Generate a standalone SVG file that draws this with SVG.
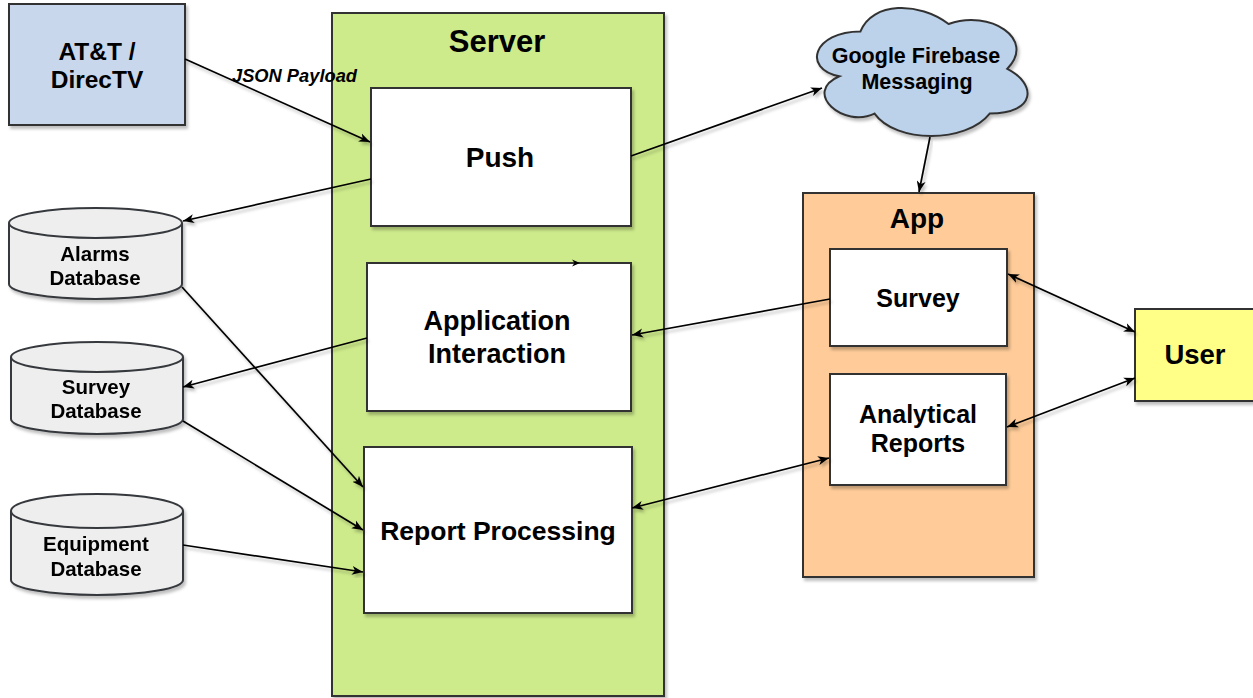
<svg xmlns="http://www.w3.org/2000/svg" width="1253" height="698" viewBox="0 0 1253 698">
<defs>
<filter id="sh" x="-10%" y="-10%" width="130%" height="130%">
<feDropShadow dx="2" dy="3" stdDeviation="1.4" flood-color="#000" flood-opacity="0.25"/>
</filter>
<marker id="arr" markerUnits="userSpaceOnUse" markerWidth="12" markerHeight="11" viewBox="0 0 12 11" refX="11" refY="5.5" orient="auto-start-reverse">
<path d="M0,1 L11,5.5 L0,10 L3,5.5 Z" fill="#000"/>
</marker>
<style>
.box{stroke:#333;stroke-width:2;filter:url(#sh)}
.db{fill:#eeeeee;stroke:#36393d;stroke-width:2}
.t{font-family:"Liberation Sans",Arial,Helvetica,sans-serif;font-weight:bold;fill:#000;text-anchor:middle}
.c{fill:none;stroke:#000;stroke-width:1.7;marker-end:url(#arr);filter:url(#sh)}
.cb{marker-start:url(#arr)}
</style>
</defs>
<rect width="1253" height="698" fill="#ffffff"/>

<g id="server">
<rect class="box" x="332" y="13" width="332" height="683" fill="#cdeb8b"/>
<text class="t" x="497" y="52" font-size="31">Server</text>
</g>

<g id="app">
<rect class="box" x="803" y="193" width="231" height="384" fill="#ffcc99"/>
<text class="t" x="917" y="228" font-size="28">App</text>
</g>

<g id="att">
<rect class="box" x="9" y="4" width="176" height="121" fill="#c8d7eb"/>
<text class="t" x="97" y="60" font-size="24.5">AT&amp;T /</text>
<text class="t" x="97" y="88" font-size="24.5">DirecTV</text>
</g>

<g id="push">
<rect class="box" x="371" y="88" width="260" height="138" fill="#ffffff"/>
<text class="t" x="500" y="167" font-size="28">Push</text>
</g>

<g id="appinteraction">
<rect class="box" x="367" y="263" width="264" height="148" fill="#ffffff"/>
<text class="t" x="497" y="330" font-size="27">Application</text>
<text class="t" x="497" y="363" font-size="27">Interaction</text>
</g>

<g id="reportprocessing">
<rect class="box" x="364" y="447" width="268" height="166" fill="#ffffff"/>
<text class="t" x="498" y="540" font-size="26.5">Report Processing</text>
</g>

<g id="alarmsdb" filter="url(#sh)">
<path class="db" d="M9,223 A86.5,15 0 0 1 182,223 L182,284 A86.5,15 0 0 1 9,284 Z"/>
<path class="db" fill="none" d="M9,223 A86.5,15 0 0 0 182,223"/>
<text class="t" x="95" y="261" font-size="20.5">Alarms</text>
<text class="t" x="95" y="285" font-size="20.5">Database</text>
</g>

<g id="surveydb" filter="url(#sh)">
<path class="db" d="M11,357 A86,15 0 0 1 183,357 L183,419 A86,15 0 0 1 11,419 Z"/>
<path class="db" fill="none" d="M11,357 A86,15 0 0 0 183,357"/>
<text class="t" x="96" y="394" font-size="20.5">Survey</text>
<text class="t" x="96" y="418" font-size="20.5">Database</text>
</g>

<g id="equipmentdb" filter="url(#sh)">
<path class="db" d="M11,511 A86,17 0 0 1 183,511 L183,580 A86,15 0 0 1 11,580 Z"/>
<path class="db" fill="none" d="M11,511 A86,17 0 0 0 183,511"/>
<text class="t" x="96" y="551" font-size="20.5">Equipment</text>
<text class="t" x="96" y="576" font-size="20.5">Database</text>
</g>

<g id="firebase">
<path class="box" fill="#bcd2ea" d="M860.45,31.45 C813.45,31.45 801.7,68.8 839.3,76.27 C801.7,92.7 844,128.56 874.55,113.62 C895.7,143.5 966.2,143.5 989.7,113.62 C1036.7,113.62 1036.7,83.74 1007.3,68.8 C1036.7,38.92 989.7,9.04 948.6,23.98 C919.2,1.57 872.2,1.57 860.45,31.45 Z"/>
<text class="t" x="916" y="63" font-size="21.5">Google Firebase</text>
<text class="t" x="917" y="89" font-size="21.5">Messaging</text>
</g>

<g id="survey">
<rect class="box" x="830" y="249" width="177" height="97" fill="#ffffff"/>
<text class="t" x="918" y="307" font-size="25">Survey</text>
</g>

<g id="analyticalreports">
<rect class="box" x="830" y="374" width="176" height="111" fill="#ffffff"/>
<text class="t" x="918" y="423" font-size="25">Analytical</text>
<text class="t" x="918" y="452" font-size="25">Reports</text>
</g>

<g id="user">
<rect class="box" x="1135" y="309" width="125" height="92" fill="#ffff88"/>
<text class="t" x="1195" y="364" font-size="27.5">User</text>
</g>

<g id="connectors">
<path class="c" d="M185,59 L370,142"/>
<path class="c" d="M371,179 L183,221"/>
<path class="c" d="M182,287 L363,487"/>
<path class="c" d="M367,338 L183,387"/>
<path class="c" d="M183,421 L363,530"/>
<path class="c" d="M183,545 L363,572"/>
<path class="c" d="M631,156 L822,88"/>
<path class="c" d="M930,137 L919,192"/>
<path class="c" d="M830,299 L632,335"/>
<path class="c cb" d="M1008,274 L1135,332"/>
<path class="c cb" d="M1007,427 L1135,378"/>
<path class="c cb" d="M632,508 L829,458"/>
<path d="M572,259.5 L580,263 L572,266.5 L574.5,263 Z" fill="#000"/>
<text x="232" y="82" font-family="'Liberation Sans',Arial,Helvetica,sans-serif" font-weight="bold" font-style="italic" font-size="18.3" fill="#000">JSON Payload</text>
</g>
</svg>
